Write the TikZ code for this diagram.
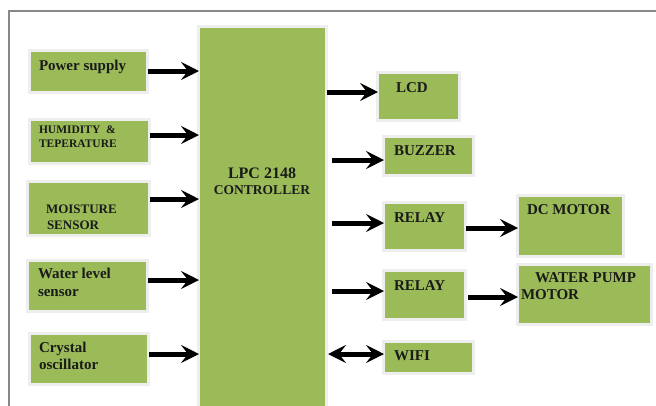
\documentclass[tikz,border=0pt]{standalone}
\usepackage{fontspec}
\setmainfont{Liberation Serif}
\usetikzlibrary{arrows.meta}
\definecolor{boxgreen}{HTML}{9BBB59}
\definecolor{halo}{HTML}{EEEEEE}
\definecolor{txt}{HTML}{1A1A1A}
\definecolor{frame}{HTML}{888888}
\tikzset{
  box/.style={fill=boxgreen, draw=none, preaction={draw=halo, line width=6pt}},
  lbl/.style={anchor=base west, inner sep=0pt, outer sep=0pt, text=txt, font=\bfseries\fontsize{15}{17}\selectfont},
  tip/.tip={Stealth[length=18pt,width=18pt,inset=7pt]},
  arr/.style={line width=5pt, -tip, shorten <=2pt, shorten >=1pt},
  darr/.style={line width=5pt, tip-tip, shorten <=1pt, shorten >=1pt}
}
\begin{document}
\begin{tikzpicture}[x=1pt,y=-1pt]
\useasboundingbox (0,0) rectangle (656,405);
\fill[white] (0,0) rectangle (656,405);
\draw[frame, line width=2pt] (9,410) -- (9,11) -- (660,11);

% left boxes
\path[box] (31,52) rectangle (146,91) node[midway] (ps) {};
\path[box] (31,121) rectangle (148,162) node[midway] (hum) {};
\path[box] (29,183) rectangle (148,234) node[midway] (moi) {};
\path[box] (29,262) rectangle (146,310) node[midway] (wl) {};
\path[box] (31,335) rectangle (147,383) node[midway] (cry) {};
% controller
\path[box] (200,28) rectangle (325,412) node[midway] (ctrl) {};
% right boxes
\path[box] (379,74) rectangle (458,119) node[midway] (lcd) {};
\path[box] (385,138) rectangle (472,174) node[midway] (buz) {};
\path[box] (385,204) rectangle (464,249) node[midway] (rel1) {};
\path[box] (519,197) rectangle (622,255) node[midway] (dc) {};
\path[box] (385,272) rectangle (464,318) node[midway] (rel2) {};
\path[box] (519,266) rectangle (650,323) node[midway] (wp) {};
\path[box] (385,343) rectangle (472,372) node[midway] (wifi) {};

% coordinates for box edges
\coordinate (psE) at (146,71);  \coordinate (psC) at (200,71);
\coordinate (humE) at (148,135); \coordinate (humC) at (200,135);
\coordinate (moiE) at (148,199); \coordinate (moiC) at (200,199);
\coordinate (wlE) at (146,280);  \coordinate (wlC) at (200,280);
\coordinate (cryE) at (147,354); \coordinate (cryC) at (200,354);
\coordinate (lcdC) at (325,92);  \coordinate (lcdW) at (379,92);
\coordinate (buzC) at (330,160); \coordinate (buzW) at (385,160);
\coordinate (r1C) at (330,223);  \coordinate (r1W) at (385,223);
\coordinate (r1E) at (464,228);  \coordinate (dcW) at (519,228);
\coordinate (r2C) at (330,291);  \coordinate (r2W) at (385,291);
\coordinate (r2E) at (466,297);  \coordinate (wpW) at (519,297);
\coordinate (wfC) at (327,354);  \coordinate (wfW) at (385,354);

\draw[arr] (psE) -- (psC);
\draw[arr] (humE) -- (humC);
\draw[arr] (moiE) -- (moiC);
\draw[arr] (wlE) -- (wlC);
\draw[arr] (cryE) -- (cryC);
\draw[arr] (lcdC) -- (lcdW);
\draw[arr] (buzC) -- (buzW);
\draw[arr] (r1C) -- (r1W);
\draw[arr] (r1E) -- (dcW);
\draw[arr] (r2C) -- (r2W);
\draw[arr] (r2E) -- (wpW);
\draw[darr] (wfC) -- (wfW);

% labels
\node[lbl] (t1) at (39,70) {Power supply};
\node[lbl, font=\bfseries\fontsize{11.5}{13}\selectfont] (t2a) at (39,133) {HUMIDITY \ \&};
\node[lbl, font=\bfseries\fontsize{11.5}{13}\selectfont] (t2b) at (39,147) {TEPERATURE};
\node[lbl, font=\bfseries\fontsize{13}{15}\selectfont] (t3a) at (46,213) {MOISTURE};
\node[lbl, font=\bfseries\fontsize{13}{15}\selectfont] (t3b) at (47,229) {SENSOR};
\node[lbl] (t4a) at (38,278) {Water level};
\node[lbl] (t4b) at (38,296) {sensor};
\node[lbl] (t5a) at (39,352) {Crystal};
\node[lbl] (t5b) at (39,369) {oscillator};
\node[lbl, anchor=base, font=\bfseries\fontsize{16}{18}\selectfont] (t6a) at (262,178) {LPC 2148};
\node[lbl, anchor=base, font=\bfseries\fontsize{13.5}{15}\selectfont] (t6b) at (262,194) {CONTROLLER};
\node[lbl] (t7) at (396,92) {LCD};
\node[lbl] (t8) at (394,155) {BUZZER};
\node[lbl] (t9) at (394,222) {RELAY};
\node[lbl] (t10) at (527,214) {DC MOTOR};
\node[lbl] (t11) at (394,290) {RELAY};
\node[lbl] (t12a) at (535,282) {WATER PUMP};
\node[lbl] (t12b) at (521,299) {MOTOR};
\node[lbl] (t13) at (394,360) {WIFI};
\end{tikzpicture}
\end{document}
